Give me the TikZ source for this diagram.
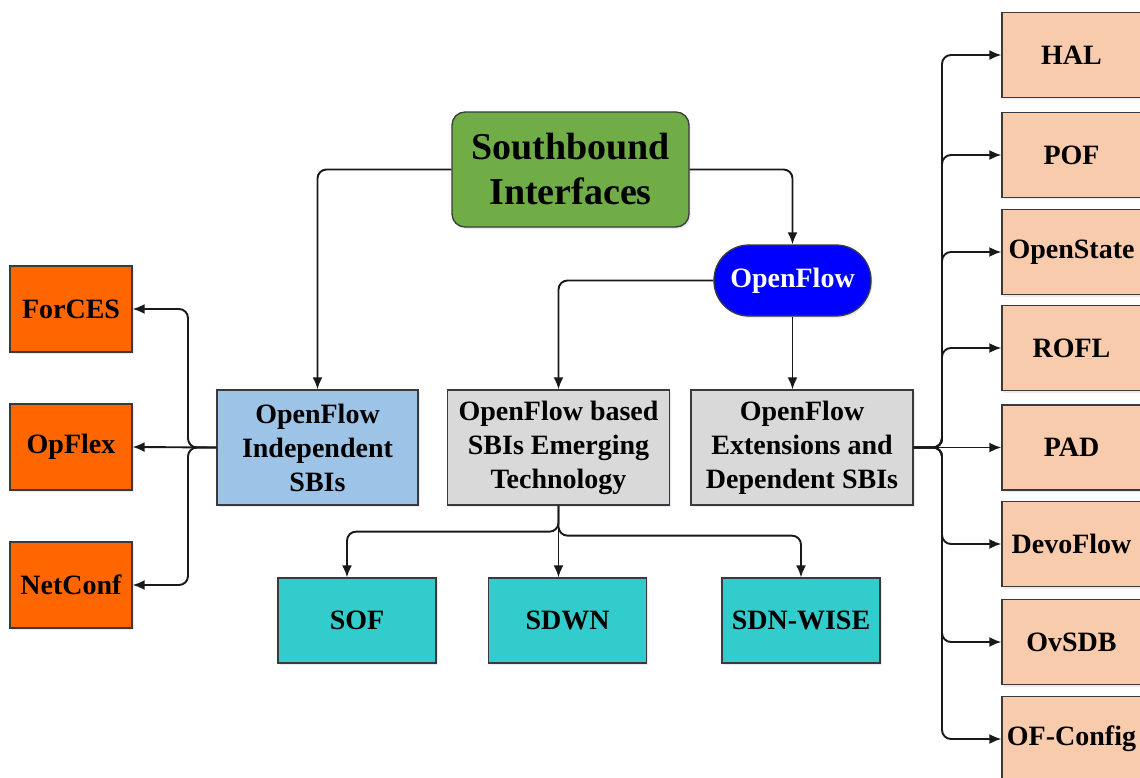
\documentclass[tikz,border=0pt]{standalone}
\usepackage{fontspec}
\setmainfont{Liberation Serif}
\usetikzlibrary{arrows.meta,shadows}
\definecolor{sbgreen}{HTML}{70AD47}
\definecolor{ofblue}{HTML}{0000FF}
\definecolor{indblue}{HTML}{9DC3E6}
\definecolor{lgray}{HTML}{D9D9D9}
\definecolor{orng}{HTML}{FF6600}
\definecolor{teal2}{HTML}{33CCCC}
\definecolor{peach}{HTML}{F8CBAD}
\definecolor{boxline}{HTML}{3A3A3A}
\begin{document}
\begin{tikzpicture}[x=1pt,y=-1pt,
  box/.style={draw=boxline, line width=1.3pt, inner sep=0pt, align=center,
    font=\fontsize{28}{34}\selectfont\bfseries,
    drop shadow={shadow xshift=1.5pt, shadow yshift=-2pt, opacity=0.12, fill=blue!40!gray}},
  conn/.style={draw=black!90, line width=1.9pt, -{Latex[length=12pt,width=10pt]}, rounded corners=9pt}]
\useasboundingbox (0,0) rectangle (1140,778);

% top
\node[box, fill=sbgreen, rounded corners=13pt, minimum width=237pt, minimum height=115pt,
  font=\fontsize{38}{45}\selectfont\bfseries] (sb) at (570.5,169.5) {Southbound\\Interfaces};
\node[box, fill=ofblue, rounded corners=35pt, minimum width=157pt, minimum height=71pt, text=white] (of) at (792.5,280.5) {OpenFlow};

% middle row
\node[box, fill=indblue, minimum width=201pt, minimum height=115pt] (ind) at (317.5,447.5) {OpenFlow\\Independent\\SBIs};
\node[box, fill=lgray, minimum width=222pt, minimum height=115pt] (based) at (558.5,447.5) {OpenFlow based\\SBIs Emerging\\Technology};
\node[box, fill=lgray, minimum width=222pt, minimum height=115pt] (ext) at (802,447.5) {OpenFlow\\Extensions and\\Dependent SBIs};

% left column
\node[box, fill=orng, minimum width=122pt, minimum height=86pt] (forces) at (71,309) {ForCES};
\node[box, fill=orng, minimum width=122pt, minimum height=86pt] (opflex) at (71,447) {OpFlex};
\node[box, fill=orng, minimum width=122pt, minimum height=86pt] (netconf) at (71,585) {NetConf};

% bottom row
\node[box, fill=teal2, minimum width=158pt, minimum height=85pt] (sof) at (357,620.5) {SOF};
\node[box, fill=teal2, minimum width=158pt, minimum height=85pt] (sdwn) at (567.5,620.5) {SDWN};
\node[box, fill=teal2, minimum width=158pt, minimum height=85pt] (sdnwise) at (801,620.5) {SDN-WISE};

% right column
\node[box, fill=peach, minimum width=139pt, minimum height=85pt] (hal) at (1071.5,55) {HAL};
\node[box, fill=peach, minimum width=139pt, minimum height=85pt] (pof) at (1071.5,155) {POF};
\node[box, fill=peach, minimum width=139pt, minimum height=85pt] (ost) at (1071.5,252) {OpenState};
\node[box, fill=peach, minimum width=139pt, minimum height=85pt] (rofl) at (1071.5,348) {ROFL};
\node[box, fill=peach, minimum width=139pt, minimum height=85pt] (pad) at (1071.5,447.5) {PAD};
\node[box, fill=peach, minimum width=139pt, minimum height=85pt] (devo) at (1071.5,544) {DevoFlow};
\node[box, fill=peach, minimum width=139pt, minimum height=85pt] (ovsdb) at (1071.5,642) {OvSDB};
\node[box, fill=peach, minimum width=139pt, minimum height=85pt] (ofc) at (1071.5,739) {OF-Config};

% buses
\coordinate (lbus) at (188,447.5);
\coordinate (rbus) at (942,447.5);

% connectors top
\draw[conn] (sb.east) -| (of.north);
\draw[conn] (sb.west) -| (ind.north);
\draw[conn] (of.west) -| (based.north);
\draw[conn] (of.south) -- (of.south |- ext.north);

% left
\draw[conn] (ind.west) -| (lbus |- forces.east) -- (forces.east);
\draw[conn] (ind.west) -- (opflex.east);
\draw[conn] (ind.west) -| (lbus |- netconf.east) -- (netconf.east);

% bottom
\draw[conn] (based.south) -- ++(0,26) -| ([xshift=-10pt]sof.north);
\draw[conn] (based.south) -- (based.south |- sdwn.north);
\draw[conn] (based.south) -- ++(0,30) -| (sdnwise.north);

% right
\draw[conn] (ext.east) -| (rbus |- hal.west) -- (hal.west);
\draw[conn] (ext.east) -| (rbus |- pof.west) -- (pof.west);
\draw[conn] (ext.east) -| (rbus |- ost.west) -- (ost.west);
\draw[conn] (ext.east) -| (rbus |- rofl.west) -- (rofl.west);
\draw[conn] (ext.east) -- (pad.west);
\draw[conn] (ext.east) -| (rbus |- devo.west) -- (devo.west);
\draw[conn] (ext.east) -| (rbus |- ovsdb.west) -- (ovsdb.west);
\draw[conn] (ext.east) -| (rbus |- ofc.west) -- (ofc.west);
\end{tikzpicture}
\end{document}
